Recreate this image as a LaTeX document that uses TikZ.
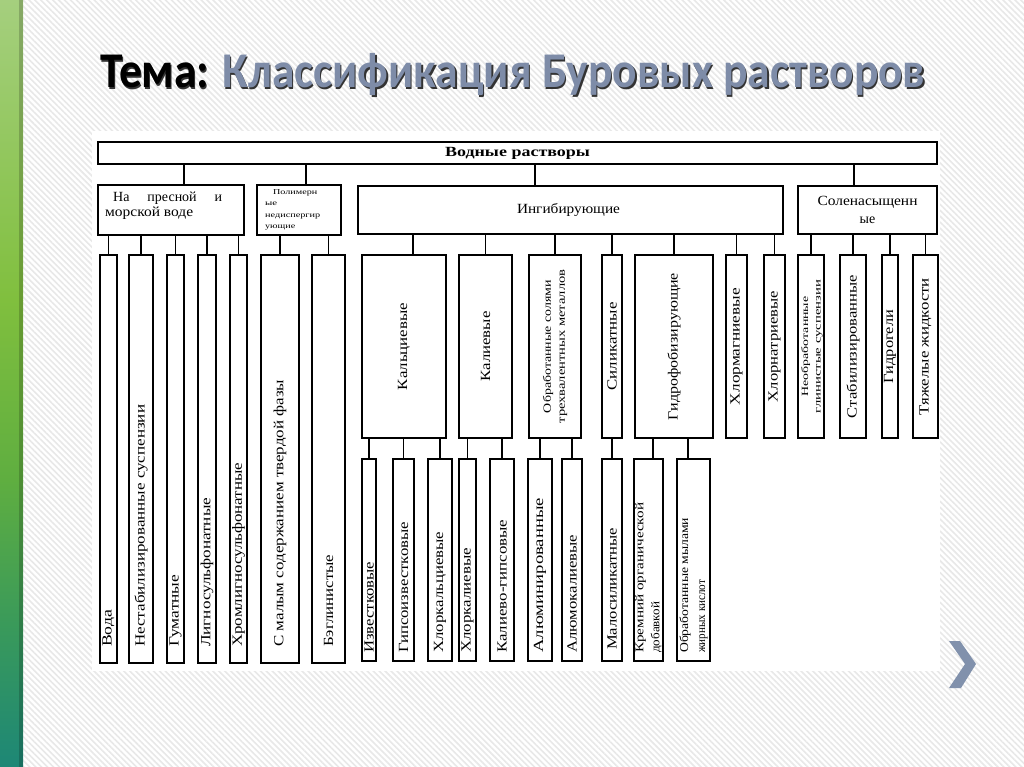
\documentclass[tikz,border=0pt]{standalone}
\usepackage{fontspec}
\usepackage{graphicx}
\setmainfont{Liberation Serif}
\newfontfamily\titlefont{Carlito}
\usetikzlibrary{calc,patterns.meta}
\definecolor{titleblue}{HTML}{7E8CA8}
\definecolor{chev}{HTML}{8191AC}
\definecolor{gA}{HTML}{A5CF7E}
\definecolor{gB}{HTML}{80BF3E}
\definecolor{gC}{HTML}{5FAE40}
\definecolor{gD}{HTML}{3A9A5A}
\definecolor{gE}{HTML}{1D8776}
\newcommand{\mybox}[5]{\node[box, anchor=north west, minimum width={(#4)-(#2)}, minimum height={(#5)-(#3)}] (#1) at (#2,#3) {};}
\newcommand{\mylink}[2]{\draw[conn] (#2.north) -- (#2.north |- #1.south);}
\newcommand{\mybt}[4]{\node[vt, anchor=west] (t#1) at ([yshift=#2pt]#1.south) {\resizebox{#3pt}{\height}{#4}};}
\newcommand{\myct}[3]{\node[vt] (t#1) at (#1.center) {\resizebox{#2pt}{\height}{#3}};}
\newcommand{\myrs}[2]{\resizebox{#1pt}{\height}{#2}}
\newcommand{\mytitle}[2]{\resizebox{825pt}{\height}{\titlefont\bfseries\fontsize{50}{56}\selectfont{\color{#1}Тема:} {\color{#2}Классификация Буровых растворов}}}
\begin{document}
\begin{tikzpicture}[x=1pt,y=-1pt,
  box/.style={draw=black, line width=1.8pt, fill=white, inner sep=0pt, outer sep=0pt},
  conn/.style={line width=1.8pt},
  vt/.style={rotate=90, inner sep=0pt, font=\fontsize{14}{16}\selectfont},
  ht/.style={inner sep=0pt, font=\fontsize{14}{16}\selectfont}]
\useasboundingbox (0,0) rectangle (1024,767);
\fill[white] (0,0) rectangle (1024,767);
\fill[pattern={Lines[angle=-45,distance=4.2pt,line width=1.6pt]}, pattern color=black!9] (0,0) rectangle (1024,767);
% green bar
\shade[top color=gA, bottom color=gB] (0,0) rectangle (23,300);
\shade[top color=gB, bottom color=gC] (0,300) rectangle (23,480);
\shade[top color=gC, bottom color=gE, middle color=gD] (0,480) rectangle (23,767);
\fill[black, opacity=0.18] (19,0) rectangle (23,767);
% picture area
\fill[white] (92,131) rectangle (940,671);
% chevron
\fill[chev] (949,641) -- (960,641) -- (976,664) -- (961,688) -- (949,688) -- (965,664) -- cycle;
% title
\node[anchor=base west, inner sep=0pt] (titlesh) at (101.2,89.2) {\mytitle{black!80}{black!80}};
\node[anchor=base west, inner sep=0pt] (title) at (100,88) {\mytitle{black}{titleblue}};
% level 1 and 2
\mybox{top}{98}{142}{937}{164}
\mybox{fresh}{98}{185}{244}{235}
\mybox{poly}{257}{185}{341}{235}
\mybox{ingib}{358}{186}{783}{234}
\mybox{solen}{798}{186}{937}{234}
\coordinate (c1) at ($(fresh.north)+(13,0)$);
\coordinate (c2) at ($(poly.north)+(7,0)$);
\coordinate (c3) at ($(ingib.north)+(-35.5,0)$);
\coordinate (c4) at ($(solen.north)+(-13.5,0)$);
\foreach \c in {c1,c2,c3,c4} \draw[conn] (\c) -- (\c |- top.south);
\node[ht, font=\bfseries\fontsize{14}{16}\selectfont] (ttop) at (top.center) {\myrs{145}{Водные растворы}};
\node[ht, align=left, anchor=north west, font=\fontsize{14}{15}\selectfont] (tfresh) at (105,192) {\hspace*{8pt}\makebox[109pt][s]{На пресной и}\\\myrs{88}{морской воде}};
\node[ht, align=left, anchor=north west, font=\fontsize{7.5}{11.5}\selectfont] (tpoly) at (265,189) {\hspace*{8pt}\myrs{44}{Полимерн}\\\myrs{12}{ые}\\\myrs{55}{недиспергир}\\\myrs{30}{ующие}};
\node[ht] (tingib) at ([xshift=-2pt]ingib.center) {\myrs{103}{Ингибирующие}};
\node[ht, align=center, font=\fontsize{14}{18}\selectfont] (tsolen) at (solen.center) {\myrs{100}{Соленасыщенн}\\ые};
% level 3 tall
\mybox{voda}{100}{255}{117}{663}
\mybox{nestab}{129}{255}{153}{663}
\mybox{gum}{167}{255}{184}{663}
\mybox{ligno}{198}{255}{216}{663}
\mybox{hrom}{230}{255}{247}{663}
\mybox{smal}{261}{255}{299}{663}
\mybox{bezgl}{312}{255}{345}{663}
\foreach \n in {voda,nestab,gum,ligno,hrom} {\mylink{fresh}{\n}}
\foreach \n in {smal,bezgl} {\mylink{poly}{\n}}
\mybt{voda}{16}{37}{Вода}
\mybt{nestab}{16}{242}{Нестабилизированные суспензии}
\mybt{gum}{16}{72}{Гуматные}
\mybt{ligno}{16}{149}{Лигносульфонатные}
\mybt{hrom}{16}{184}{Хромлигносульфонатные}
\mybt{smal}{16}{267}{С малым содержанием твердой фазы}
\mybt{bezgl}{16}{92}{Бэглинистые}
% level 3 mid
\mybox{kalc}{362}{255}{446}{438}
\mybox{kal}{459}{255}{512}{438}
\mybox{obr}{529}{255}{581}{438}
\mybox{silik}{602}{255}{622}{438}
\mybox{gidrof}{635}{255}{713}{438}
\mybox{hlmg}{726}{255}{747}{438}
\mybox{hlna}{764}{255}{785}{438}
\mybox{neobr}{798}{255}{824}{438}
\mybox{stab}{840}{255}{866}{438}
\mybox{gidrogel}{882}{255}{898}{438}
\mybox{tyazh}{913}{255}{938}{438}
\coordinate (k1) at ($(kalc.north)+(9,0)$);
\draw[conn] (k1) -- (k1 |- ingib.south);
\foreach \n in {kal,obr,silik,gidrof,hlmg,hlna} {\mylink{ingib}{\n}}
\foreach \n in {neobr,stab,gidrogel,tyazh} {\mylink{solen}{\n}}
\myct{kalc}{87}{Кальциевые}
\myct{kal}{70}{Калиевые}
\node[vt, align=center, font=\fontsize{11}{14}\selectfont] (tobr) at (obr.center) {\myrs{133}{Обработанные солями}\\\myrs{154}{трехвалентных металлов}};
\myct{silik}{88}{Силикатные}
\myct{gidrof}{147}{Гидрофобизирующие}
\myct{hlmg}{117}{Хлормагниевые}
\myct{hlna}{111}{Хлорнатриевые}
\node[vt, align=center, font=\fontsize{9.5}{12.5}\selectfont] (tneobr) at ([xshift=1pt]neobr.center) {\myrs{100}{Необработанные}\\\myrs{133}{глинистые суспензии}};
\myct{stab}{143}{Стабилизированные}
\myct{gidrogel}{73}{Гидрогели}
\myct{tyazh}{137}{Тяжелые жидкости}
% level 4
\mybox{izv}{362}{459}{376}{661}
\mybox{gipsiz}{393}{459}{414}{661}
\mybox{hlkalc}{428}{459}{452}{661}
\mybox{hlkal}{459}{459}{476}{661}
\mybox{kalgips}{490}{459}{514}{661}
\mybox{alum}{528}{459}{552}{661}
\mybox{alumkal}{562}{459}{582}{661}
\mybox{malosil}{602}{459}{622}{661}
\mybox{kremn}{634}{459}{663}{661}
\mybox{obrmyl}{677}{459}{710}{661}
\foreach \n in {izv,gipsiz,hlkalc} {\mylink{kalc}{\n}}
\foreach \n in {hlkal,kalgips} {\mylink{kal}{\n}}
\foreach \n in {alum,alumkal} {\mylink{obr}{\n}}
\mylink{silik}{malosil}
\coordinate (g1) at ($(kremn.north)+(4.5,0)$);
\coordinate (g2) at ($(obrmyl.north)+(-5.5,0)$);
\draw[conn] (g1) -- (g1 |- gidrof.south);
\draw[conn] (g2) -- (g2 |- gidrof.south);
\mybt{izv}{8}{91}{Известковые}
\mybt{gipsiz}{8}{131}{Гипсоизвестковые}
\mybt{hlkalc}{8}{121}{Хлоркальциевые}
\mybt{hlkal}{8}{105}{Хлоркалиевые}
\mybt{kalgips}{8}{133}{Калиево-гипсовые}
\mybt{alum}{8}{155}{Алюминированные}
\mybt{alumkal}{8}{118}{Алюмокалиевые}
\mybt{malosil}{11}{122}{Малосиликатные}
\node[vt, anchor=west, align=left, font=\fontsize{12}{16}\selectfont] (tkremn) at ([yshift=8pt]kremn.south) {\myrs{150}{Кремний органической}\\\myrs{51}{добавкой}};
\node[vt, anchor=west, align=left, font=\fontsize{12}{17}\selectfont] (tobrmyl) at ([yshift=8pt]obrmyl.south) {\myrs{135}{Обработанные мылами}\\\myrs{73}{жирных кислот}};
\end{tikzpicture}
\end{document}
